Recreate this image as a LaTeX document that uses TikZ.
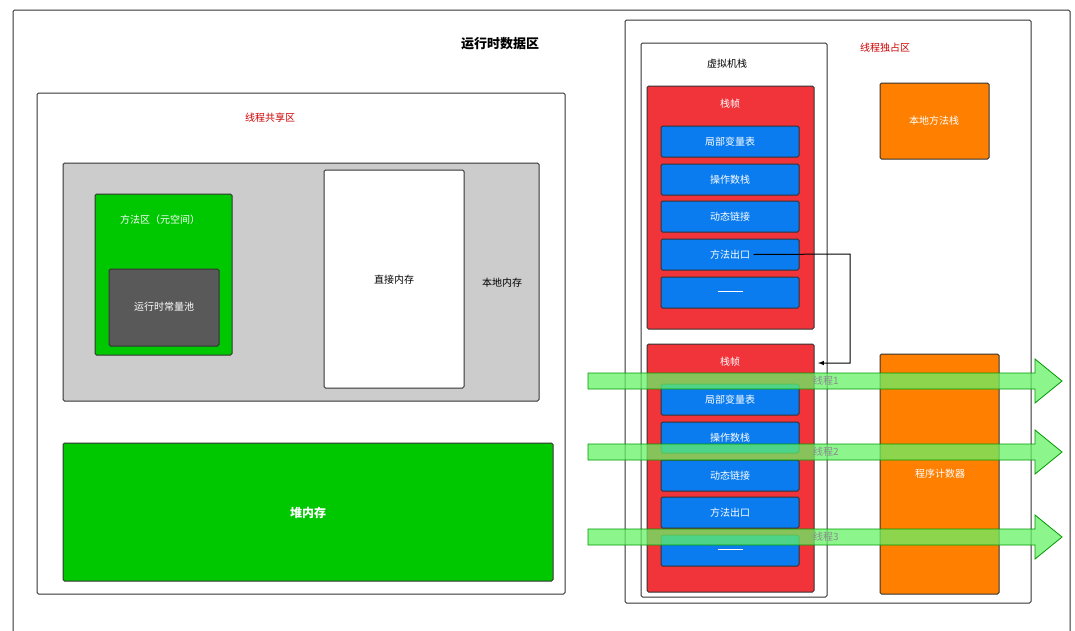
\documentclass[tikz,border=0pt]{standalone}
\usepackage{fontspec}
\setmainfont{Noto Sans CJK SC}
\begin{document}
\begin{tikzpicture}[x=1pt,y=-1pt,
  box/.style={draw=black!80,line width=1pt,rounded corners=1.5pt},
  lbl/.style={font=\fontsize{10}{12}\selectfont},
  wl/.style={font=\fontsize{10}{12}\selectfont,text=white},
  item/.style={box,fill=blue!50!cyan!80!black,fill=itemblue},
  thr/.style={draw=green!60!black,fill=thrgreen,fill opacity=0.75,line width=0.8pt}]
\definecolor{itemblue}{HTML}{0A7CF0}
\definecolor{thrgreen}{HTML}{66F266}
\definecolor{fred}{HTML}{F0343A}
\definecolor{gr}{HTML}{00C800}
\definecolor{og}{HTML}{FF8000}
\useasboundingbox (0,0) rectangle (1075,630);
\fill[white] (0,0) rectangle (1075,630);
\draw[box] (13,10) rectangle (1070,640);
\node[font=\fontsize{13}{15}\selectfont\bfseries] (title) at (500,44) {运行时数据区};
% shared
\draw[box] (37,93) rectangle (565,594);
\node[lbl,text=red!80!black] (sh) at (270,118) {线程共享区};
\draw[box,fill=black!20] (63,163) rectangle (539,401);
\node[lbl] (nm) at (502,283) {本地内存};
\draw[box,fill=gr] (95,194) rectangle (232,355);
\node[wl] (ma) at (160,220) {方法区（元空间）};
\draw[box,fill=black!65] (109,269) rectangle (219,346);
\node[wl] (rc) at (164,307) {运行时常量池};
\draw[box,fill=white] (324,170) rectangle (464,388);
\node[lbl] (dm) at (394,280) {直接内存};
\draw[box,fill=gr] (63,443) rectangle (553,581);
\node[wl,font=\fontsize{12}{14}\selectfont\bfseries] (heap) at (308,513) {堆内存};
% exclusive
\draw[box] (625,20) rectangle (1031,603);
\node[lbl,text=red!80!black] (ex) at (885,48) {线程独占区};
\draw[box] (641,43) rectangle (827,597);
\node[lbl] (vs) at (727,64) {虚拟机栈};
\draw[box,fill=fred] (647,86) rectangle (814,329);
\node[wl] (f1) at (730,104) {栈帧};
\draw[box,fill=fred] (647,344) rectangle (814,592);
\node[wl] (f2) at (730,362) {栈帧};
\foreach \t/\y/\n in {局部变量表/126/a,操作数栈/164/b,动态链接/201/c,方法出口/239/d,{\rule[0.3ex]{2.5em}{0.4pt}}/277/e}{
  \draw[item] (661,\y) rectangle (799,\y+31);
  \node[wl] (a\n) at (730,\y+15.5) {\t};}
\foreach \t/\y/\n in {局部变量表/384/a,操作数栈/422/b,动态链接/460/c,方法出口/497/d,{\rule[0.3ex]{2.5em}{0.4pt}}/535/e}{
  \draw[item] (661,\y) rectangle (799,\y+31);
  \node[wl] (b\n) at (730,\y+15.5) {\t};}
\draw[box,fill=og] (880,83) rectangle (989,159);
\node[wl] (nms) at (934,121) {本地方法栈};
\draw[box,fill=og] (880,354) rectangle (999,594);
\node[wl] (pc) at (940,474) {程序计数器};
\coordinate (t1) at (818,363);
\draw[line width=1pt,-latex] (ad.east) -- (850,254) -- (850,363) -- (t1);
% threads
\foreach \y/\k in {381/1,452/2,537/3}{
  \draw[thr] (588,\y-8) -- (1035,\y-8) -- (1035,\y-22) -- (1062,\y) -- (1035,\y+22) -- (1035,\y+8) -- (588,\y+8) -- cycle;
  \node[lbl,text=black!45] (th\k) at (826,\y) {线程\k};}
\end{tikzpicture}
\end{document}
